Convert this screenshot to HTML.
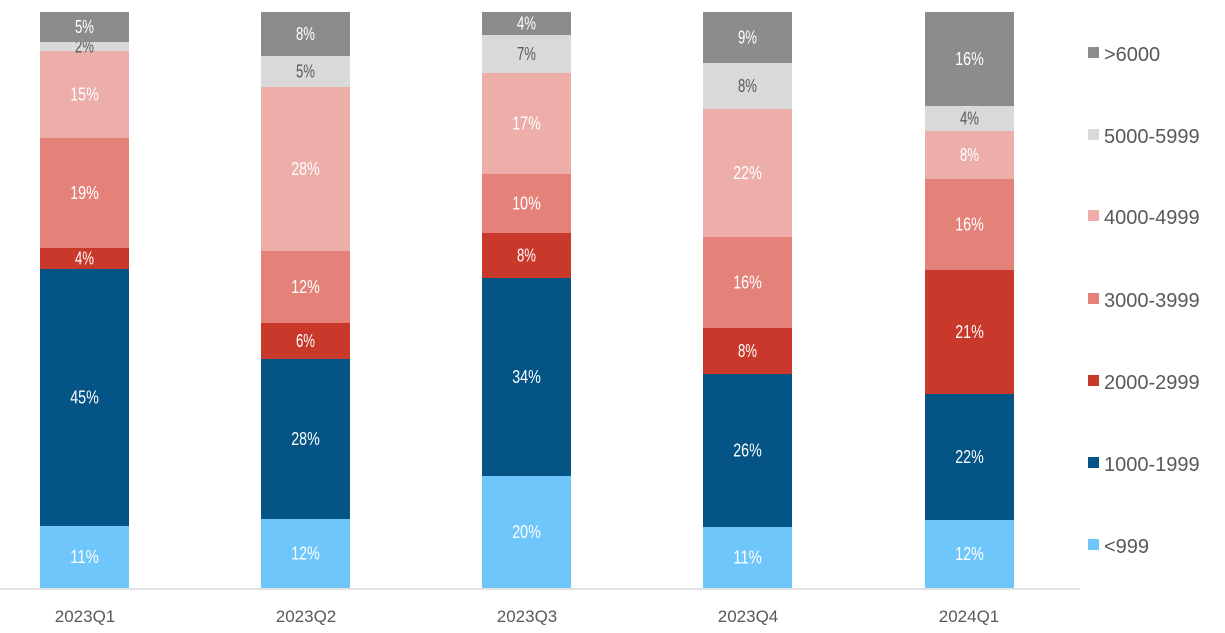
<!DOCTYPE html>
<html><head><meta charset="utf-8"><style>
body{margin:0;background:#fff;}
svg text{font-family:"Liberation Sans","Noto Sans CJK SC",sans-serif;}
</style></head><body>
<svg width="1225" height="628" xmlns="http://www.w3.org/2000/svg">
<g id="bars"></g>
<line x1="0" y1="589" x2="1080" y2="589" stroke="#d9d9d9" stroke-width="1.5"/>
<g fill="#595959" font-size="17" text-anchor="middle">
<text x="85" y="622">2023Q1</text>
<text x="306" y="622">2023Q2</text>
<text x="527" y="622">2023Q3</text>
<text x="748" y="622">2023Q4</text>
<text x="969" y="622">2024Q1</text>
</g>
<g font-size="20" fill="#595959">
<rect x="1088" y="47" width="11" height="11" fill="#8c8c8c"/><text x="1104" y="61">&gt;6000</text>
<rect x="1088" y="129" width="11" height="11" fill="#d9d9d9"/><text x="1104" y="143">5000-5999</text>
<rect x="1088" y="210" width="11" height="11" fill="#edaeaa"/><text x="1104" y="224">4000-4999</text>
<rect x="1088" y="293" width="11" height="11" fill="#e4827a"/><text x="1104" y="307">3000-3999</text>
<rect x="1088" y="375" width="11" height="11" fill="#c9392b"/><text x="1104" y="389">2000-2999</text>
<rect x="1088" y="457" width="11" height="11" fill="#045486"/><text x="1104" y="471">1000-1999</text>
<rect x="1088" y="539" width="11" height="11" fill="#6ec6fa"/><text x="1104" y="553">&lt;999</text>
</g>
</svg>
<script>
const cols=["#6ec6fa","#045486","#c9392b","#e4827a","#edaeaa","#d9d9d9","#8c8c8c"];
const data=[
[40,[588,526,269,248,138,51,42,12],["11%","45%","4%","19%","15%","2%","5%"]],
[261,[588,519,359,323,251,87,56,12],["12%","28%","6%","12%","28%","5%","8%"]],
[482,[588,476,278,233,174,73,35,12],["20%","34%","8%","10%","17%","7%","4%"]],
[703,[588,527,374,328,237,109,63,12],["11%","26%","8%","16%","22%","8%","9%"]],
[925,[588,520,394,270,179,131,106,12],["12%","22%","21%","16%","8%","4%","16%"]]];
let s="";
for(const [x,b,l] of data){
 for(let i=0;i<7;i++){
  const y=b[i+1],h=b[i]-b[i+1];
  s+=`<rect x="${x}" y="${y}" width="89" height="${h}" fill="${cols[i]}"/>`;
  const fc=(i==5)?"#595959":"#fff";
  s+=`<text x="${x+44.5}" y="${y+h/2+6}" font-size="18" fill="${fc}" text-anchor="middle" textLength="${l[i].length*9.5}" lengthAdjust="spacingAndGlyphs">${l[i]}</text>`;
 }
}
document.getElementById("bars").innerHTML=s;
</script>
</body></html>
